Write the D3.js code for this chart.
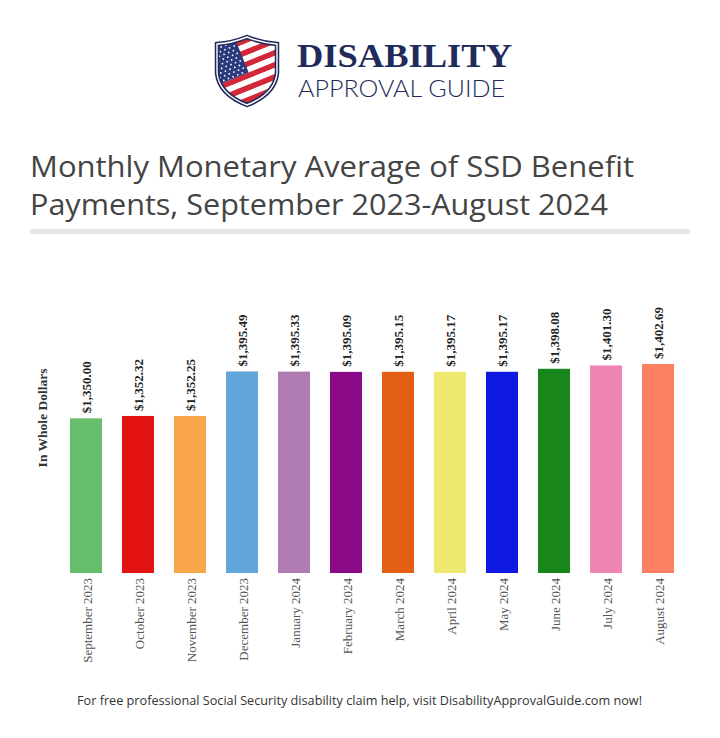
<!DOCTYPE html>
<html>
<head>
<meta charset="utf-8">
<script src="https://cdn.jsdelivr.net/npm/d3@7/dist/d3.min.js"></script>
<style>
html,body{margin:0;padding:0;background:#fff;}
svg{display:block;}
</style>
</head>
<body>
<svg id="chart" width="720" height="738"></svg>
<script>
// ---- data ----
const months = ["September 2023","October 2023","November 2023","December 2023","January 2024","February 2024","March 2024","April 2024","May 2024","June 2024","July 2024","August 2024"];
const payments = [1350.00,1352.32,1352.25,1395.49,1395.33,1395.09,1395.15,1395.17,1395.17,1398.08,1401.30,1402.69];
const barColors = ["#66be6d","#e31212","#f9a64b","#62a6d9","#b07bb1","#8a0a88","#e35f14","#f0e971","#1019e3","#18861b","#ef83b2","#fd8063"];
const titleLines = ["Monthly Monetary Average of SSD Benefit","Payments, September 2023-August 2024"];
const yAxisTitle = "In Whole Dollars";
const footerText = "For free professional Social Security disability claim help, visit DisabilityApprovalGuide.com now!";

const svg = d3.select("#chart");
const navy = "#1f2b5b";

// ---- logo ----
const logo = svg.append("g").attr("transform","translate(216,37)");
const shieldD = "M1,7 Q16,6 31,0 Q46,6 61,7 L61,36 Q59,57 31,68 Q3,57 1,36 Z";
const defs = svg.append("defs");
defs.append("clipPath").attr("id","shieldClip").append("path").attr("d",shieldD);
const flag = logo.append("g").attr("clip-path","url(#shieldClip)");
const fg = flag.append("g").attr("transform","rotate(-22,31,34)");
for (let i=0;i<16;i++){
  fg.append("rect").attr("x",-30).attr("y",-20+i*5.6).attr("width",130).attr("height",5.6)
    .attr("fill", i%2===0 ? "#d3283a" : "#ffffff");
}
fg.append("rect").attr("x",-30).attr("y",-20).attr("width",62).attr("height",56).attr("fill","#2b3a7c");
for (let r=0;r<9;r++){
  for (let c=0;c<8;c++){
    const sx = -4 + c*5 + (r%2)*2.5, sy = 2 + r*4;
    if (sx<30 && sy<35) fg.append("circle").attr("cx",sx).attr("cy",sy).attr("r",0.9).attr("fill","#fff");
  }
}
logo.append("path").attr("d",shieldD).attr("fill","none").attr("stroke",navy).attr("stroke-width",4.5);
logo.append("path").attr("d",shieldD).attr("fill","none").attr("stroke","#fff").attr("stroke-width",1.4);

svg.append("text").attr("x",297).attr("y",67)
  .attr("font-family","Liberation Serif, serif").attr("font-weight","bold").attr("font-size",33)
  .attr("fill",navy).attr("textLength",215).attr("lengthAdjust","spacingAndGlyphs").text("DISABILITY");
svg.append("text").attr("x",298).attr("y",97)
  .attr("font-family","Lato, sans-serif").attr("font-weight",300).attr("font-size",22.5)
  .attr("fill",navy).attr("textLength",207).attr("lengthAdjust","spacingAndGlyphs").text("APPROVAL GUIDE");

// ---- title ----
const titleWidths = [604, 578];
titleLines.forEach((t,i)=>{
  svg.append("text").attr("x",30).attr("y",177+i*38)
    .attr("font-family","Open Sans, sans-serif").attr("font-size",30).attr("fill","#444")
    .attr("textLength",titleWidths[i]).attr("lengthAdjust","spacingAndGlyphs").text(t);
});
svg.append("rect").attr("x",30).attr("y",229).attr("width",660).attr("height",5).attr("fill","#e6e6e6");

// ---- chart ----
const x = d3.scaleBand().domain(months).range([60,684]).paddingInner(20/52).paddingOuter(10/52);
const baseY = 573;
const y = d3.scaleLinear().domain([1200,1450]).range([baseY, baseY-250*1.031]);

const g = svg.append("g");
g.selectAll("rect.bar").data(months).join("rect").attr("class","bar")
  .attr("x",d=>x(d)).attr("width",x.bandwidth())
  .attr("y",(d,i)=>y(payments[i])).attr("height",(d,i)=>baseY-y(payments[i]))
  .attr("fill",(d,i)=>barColors[i]);

const fmt = d3.format("$,.2f");
g.selectAll("text.val").data(months).join("text").attr("class","val")
  .attr("transform",(d,i)=>`translate(${x(d)+x.bandwidth()/2+5},${y(payments[i])-5}) rotate(-90)`)
  .attr("font-family","Liberation Serif, serif").attr("font-weight","bold").attr("font-size",13)
  .attr("fill","#222").attr("text-anchor","start").text((d,i)=>fmt(payments[i]));

// x axis labels via d3 axis
const xAxis = g.append("g").attr("transform",`translate(0,${baseY})`)
  .call(d3.axisBottom(x).tickSize(0).tickPadding(0));
xAxis.select(".domain").remove();
xAxis.selectAll("text")
  .attr("font-family","Liberation Serif, serif").attr("font-size",13).attr("fill","#555")
  .attr("text-anchor","end").attr("dy",null).attr("y",null)
  .attr("transform","translate(5.5,5) rotate(-90)");

svg.append("text").attr("transform","translate(46.5,418) rotate(-90)")
  .attr("font-family","Liberation Serif, serif").attr("font-weight","bold").attr("font-size",13.5)
  .attr("fill","#333").attr("text-anchor","middle").text(yAxisTitle);

// ---- footer ----
svg.append("text").attr("x",77).attr("y",705)
  .attr("font-family","Open Sans, sans-serif").attr("font-size",13).attr("fill","#333")
  .attr("textLength",565).attr("lengthAdjust","spacingAndGlyphs").text(footerText);
</script>
</body>
</html>
